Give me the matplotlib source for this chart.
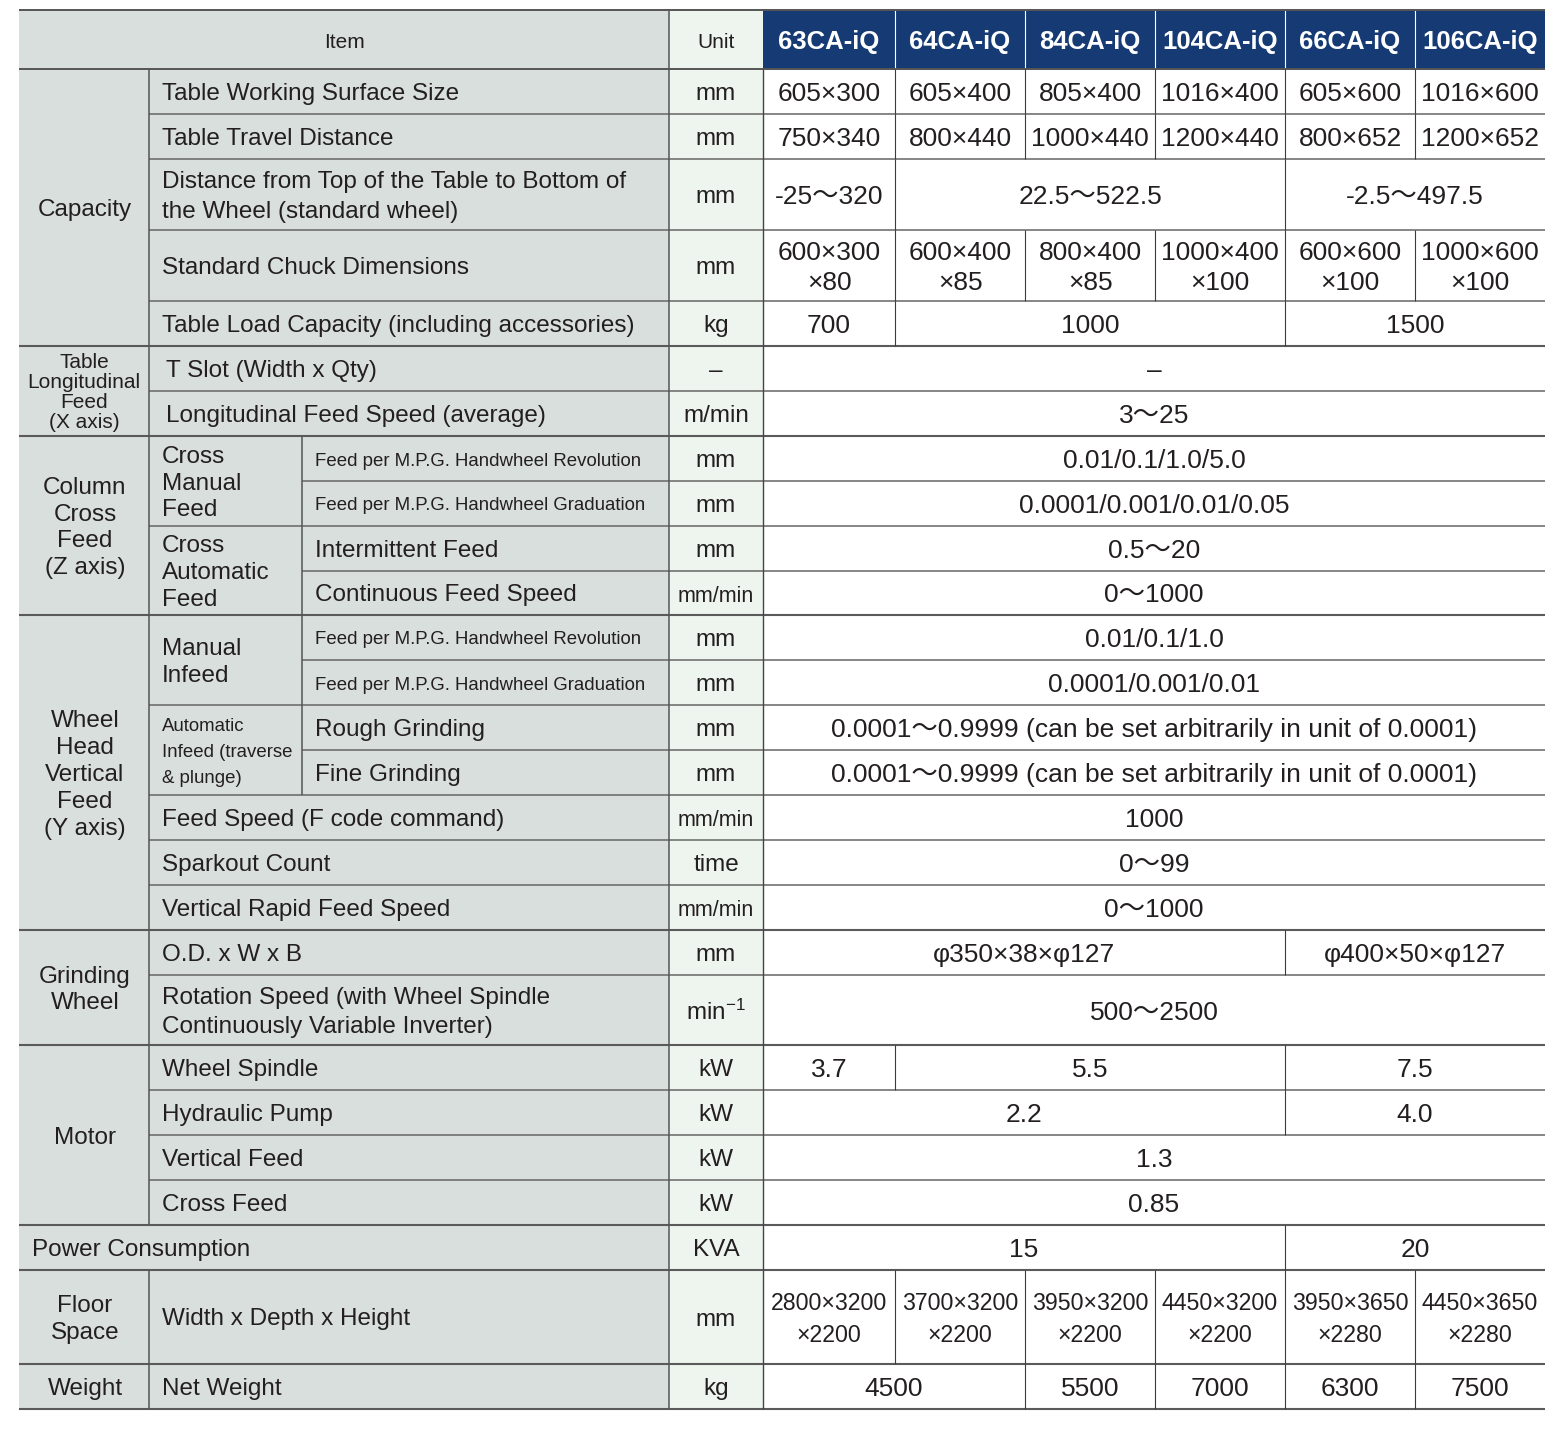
import matplotlib
matplotlib.use('Agg')
import matplotlib.pyplot as plt
from matplotlib.patches import Rectangle
from matplotlib import font_manager as fm


def available(name):
    try:
        fm.findfont(fm.FontProperties(family=name), fallback_to_default=False)
        return True
    except Exception:
        return False


REG = ['Liberation Sans', 'Noto Sans CJK JP', 'DejaVu Sans']
NARROW_OK = available('Liberation Sans Narrow')
NAR = ['Liberation Sans Narrow', 'Noto Sans CJK JP', 'DejaVu Sans'] if NARROW_OK else REG
NSCALE = 1.0 if NARROW_OK else 0.82

plt.rcParams['mathtext.fontset'] = 'custom'
plt.rcParams['mathtext.rm'] = 'Liberation Sans'
plt.rcParams['mathtext.it'] = 'Liberation Sans:italic'

# ---------------- data ----------------
models = ['63CA-iQ', '64CA-iQ', '84CA-iQ', '104CA-iQ', '66CA-iQ', '106CA-iQ']

items = [
    'Table Working Surface Size',
    'Table Travel Distance',
    'Distance from Top of the Table to Bottom of\nthe Wheel (standard wheel)',
    'Standard Chuck Dimensions',
    'Table Load Capacity (including accessories)',
    'T Slot (Width x Qty)',
    'Longitudinal Feed Speed (average)',
    'Feed per M.P.G. Handwheel Revolution',
    'Feed per M.P.G. Handwheel Graduation',
    'Intermittent Feed',
    'Continuous Feed Speed',
    'Feed per M.P.G. Handwheel Revolution',
    'Feed per M.P.G. Handwheel Graduation',
    'Rough Grinding',
    'Fine Grinding',
    'Feed Speed (F code command)',
    'Sparkout Count',
    'Vertical Rapid Feed Speed',
    'O.D. x W x B',
    'Rotation Speed (with Wheel Spindle\nContinuously Variable Inverter)',
    'Wheel Spindle',
    'Hydraulic Pump',
    'Vertical Feed',
    'Cross Feed',
    'Power Consumption',
    'Width x Depth x Height',
    'Net Weight',
]

units = ['mm', 'mm', 'mm', 'mm', 'kg', '–', 'm/min', 'mm', 'mm', 'mm', 'mm/min',
         'mm', 'mm', 'mm', 'mm', 'mm/min', 'time', 'mm/min', 'mm', r'min$^{-1}$',
         'kW', 'kW', 'kW', 'kW', 'KVA', 'mm', 'kg']

v_surface = [('605×300', 1), ('605×400', 1), ('805×400', 1), ('1016×400', 1), ('605×600', 1), ('1016×600', 1)]
v_travel = [('750×340', 1), ('800×440', 1), ('1000×440', 1), ('1200×440', 1), ('800×652', 1), ('1200×652', 1)]
v_distance = [('-25～320', 1), ('22.5～522.5', 3), ('-2.5～497.5', 2)]
v_chuck = [('600×300\n×80', 1), ('600×400\n×85', 1), ('800×400\n×85', 1), ('1000×400\n×100', 1),
           ('600×600\n×100', 1), ('1000×600\n×100', 1)]
v_load = [('700', 1), ('1000', 3), ('1500', 2)]
v_tslot = [('–', 6)]
v_long = [('3～25', 6)]
v_cm_rev = [('0.01/0.1/1.0/5.0', 6)]
v_cm_grad = [('0.0001/0.001/0.01/0.05', 6)]
v_interm = [('0.5～20', 6)]
v_contin = [('0～1000', 6)]
v_mi_rev = [('0.01/0.1/1.0', 6)]
v_mi_grad = [('0.0001/0.001/0.01', 6)]
v_rough = [('0.0001～0.9999 (can be set arbitrarily in unit of 0.0001)', 6)]
v_fine = [('0.0001～0.9999 (can be set arbitrarily in unit of 0.0001)', 6)]
v_feedspeed = [('1000', 6)]
v_sparkout = [('0～99', 6)]
v_rapid = [('0～1000', 6)]
v_od = [('φ350×38×φ127', 4), ('φ400×50×φ127', 2)]
v_rotation = [('500～2500', 6)]
v_spindle = [('3.7', 1), ('5.5', 3), ('7.5', 2)]
v_hydraulic = [('2.2', 4), ('4.0', 2)]
v_vertical = [('1.3', 6)]
v_crossfeed = [('0.85', 6)]
v_power = [('15', 4), ('20', 2)]
v_floor = [('2800×3200\n×2200', 1), ('3700×3200\n×2200', 1), ('3950×3200\n×2200', 1),
           ('4450×3200\n×2200', 1), ('3950×3650\n×2280', 1), ('4450×3650\n×2280', 1)]
v_weight = [('4500', 2), ('5500', 1), ('7000', 1), ('6300', 1), ('7500', 1)]

values = [v_surface, v_travel, v_distance, v_chuck, v_load, v_tslot, v_long,
          v_cm_rev, v_cm_grad, v_interm, v_contin, v_mi_rev, v_mi_grad,
          v_rough, v_fine, v_feedspeed, v_sparkout, v_rapid, v_od, v_rotation,
          v_spindle, v_hydraulic, v_vertical, v_crossfeed, v_power, v_floor, v_weight]

groups = [('Capacity', 0, 4), ('Table\nLongitudinal\nFeed\n(X axis)', 5, 6),
          ('Column\nCross\nFeed\n(Z axis)', 7, 10), ('Wheel\nHead\nVertical\nFeed\n(Y axis)', 11, 17),
          ('Grinding\nWheel', 18, 19), ('Motor', 20, 23), ('Floor\nSpace', 25, 25), ('Weight', 26, 26)]
subgroups = [('Cross\nManual\nFeed', 7, 8), ('Cross\nAutomatic\nFeed', 9, 10),
             ('Manual\nInfeed', 11, 12), ('Automatic\nInfeed (traverse\n& plunge)', 13, 14)]

# ---------------- layout ----------------
W, H = 1567, 1436
edges = [10, 69, 114, 159, 230, 301, 346, 391, 436, 481, 526, 571, 615, 660, 705,
         750, 795, 840, 885, 930, 975, 1045, 1090, 1135, 1180, 1225, 1270, 1364, 1409]
X0, XG, XS, XU, XV = 19, 149, 302, 669, 763
xm = [763, 895, 1025, 1155, 1285, 1415, 1545]
XR = xm[-1]
DY = 2.5  # optical vertical offset of text

LABEL_BG = '#d9dfdd'
UNIT_BG = '#eef4ee'
NAVY = '#163b74'
TXT = '#231f20'
LINE = '#666666'
VLINE = '#3c3c3c'

fig = plt.figure(figsize=(W / 100, H / 100), dpi=100)
ax = fig.add_axes([0, 0, 1, 1])
ax.set_xlim(0, W)
ax.set_ylim(H, 0)
ax.axis('off')


def rect(x0, y0, x1, y1, color):
    ax.add_patch(Rectangle((x0, y0), x1 - x0, y1 - y0, facecolor=color, edgecolor='none', zorder=1))


def hline(y, x0, x1, lw=1.1, color=LINE):
    ax.plot([x0, x1], [y, y], color=color, lw=lw, solid_capstyle='butt', zorder=3)


def vline(x, y0, y1, lw=0.8, color=VLINE):
    ax.plot([x, x], [y0, y1], color=color, lw=lw, solid_capstyle='butt', zorder=3)


def txt(x, y, s, size=17.5, ha='center', fam=REG, ls=1.1, color=TXT, weight='normal'):
    ax.text(x, y + DY, s, ha=ha, va='center', fontsize=size, family=fam, linespacing=ls,
            color=color, fontweight=weight, zorder=4)


top, bot = edges[0], edges[-1]
# backgrounds
rect(X0, top, XU, bot, LABEL_BG)
rect(XU, top, XV, bot, UNIT_BG)
rect(XV, top, XR, edges[1], NAVY)

# header
hy = (edges[0] + edges[1]) / 2
txt((X0 + XU) / 2, hy, 'Item', size=15)
txt((XU + XV) / 2, hy, 'Unit', size=15)
for i, m in enumerate(models):
    txt((xm[i] + xm[i + 1]) / 2, hy, m, size=18.5, color='white', weight='bold')
    if i > 0:
        vline(xm[i], top, edges[1], lw=0.8, color='white')

group_ends = {g[2] for g in groups} | {24}
sub_ends = {8, 12, 14}
n = len(items)


def item_x0(r):
    if 7 <= r <= 14:
        return XS
    if r == 24:
        return X0
    return XG


# horizontal lines
hline(top, X0, XR, lw=1.4, color='#555555')
hline(edges[1], X0, XR, lw=1.4, color='#555555')
for r in range(n):
    y = edges[r + 2]
    if r in group_ends or r == n - 1:
        hline(y, X0, XR, lw=1.5, color='#5a5a5a')
    elif r in sub_ends:
        hline(y, XG, XR)
    else:
        hline(y, item_x0(r), XR)

# vertical lines in label area
vline(XG, edges[1], edges[25], lw=1.1, color='#555555')
vline(XG, edges[26], bot, lw=1.1, color='#555555')
vline(XS, edges[8], edges[16], lw=1.1, color='#555555')
vline(XU, top, bot, lw=1.1, color='#555555')
vline(XV, edges[1], bot, lw=1.0, color='#444444')

# group / subgroup labels
for s, r0, r1 in groups:
    yc = (edges[r0 + 1] + edges[r1 + 2]) / 2
    if s.startswith('Table'):
        txt((X0 + XG) / 2, yc - 1, s, size=15, ls=1.06)
    else:
        txt((X0 + XG) / 2 + 1, yc, s, size=17.5, ls=1.28)
for s, r0, r1 in subgroups:
    yc = (edges[r0 + 1] + edges[r1 + 2]) / 2
    if s.startswith('Automatic'):
        txt(XG + 13, yc, s, size=13.4, ha='left', ls=1.66)
    else:
        txt(XG + 13, yc, s, size=17.5, ha='left', ls=1.27)

# rows
for r in range(n):
    y0, y1 = edges[r + 1], edges[r + 2]
    yc = (y0 + y1) / 2
    lx = item_x0(r) + 13
    if item_x0(r) == XG and r in (5, 6):
        lx = XG + 17
    if items[r].startswith('Feed per'):
        txt(lx, yc, items[r], size=16.4 * NSCALE, ha='left', fam=NAR)
    else:
        txt(lx, yc, items[r], size=17.5, ha='left', ls=1.44)
    u = units[r]
    if u == 'mm/min':
        txt((XU + XV) / 2, yc + 0.5, u, size=15.5)
    else:
        txt((XU + XV) / 2, yc, u, size=17.5)
    c = 0
    for s, span in values[r]:
        xa, xb = xm[c], xm[c + span]
        if r == 25:
            txt((xa + xb) / 2, yc, s, size=16.7, ls=1.46)
        else:
            txt((xa + xb) / 2, yc, s, size=19, ls=1.28)
        c += span
        if c < 6:
            vline(xm[c], y0, y1)

fig.savefig('out.png', dpi=100)
